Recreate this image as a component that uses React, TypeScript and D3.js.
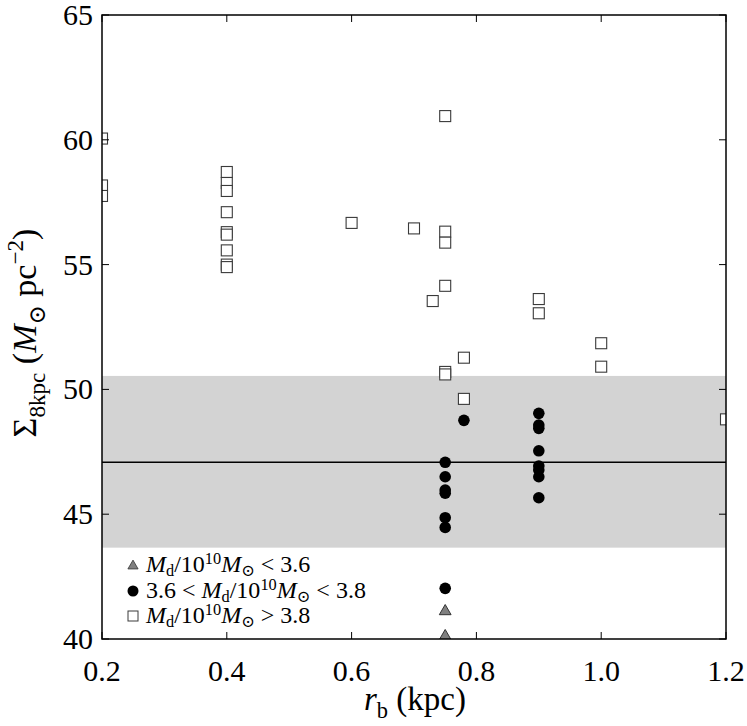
import { useEffect, useRef } from 'react'
import * as d3 from 'd3'

const W = 747, H = 726
const M = { top: 15, right: 21, bottom: 87, left: 102 }

// Md/10^10 Msun < 3.6
const triRb = [0.75, 0.75]
const triSigma = [41.15, 40.15]

// 3.6 < Md/10^10 Msun < 3.8
const dotRb = [0.75, 0.75, 0.75, 0.75, 0.75, 0.75, 0.75, 0.78, 0.9, 0.9, 0.9, 0.9, 0.9, 0.9, 0.9, 0.9]
const dotSigma = [47.08, 46.5, 45.97, 45.84, 44.86, 44.47, 42.03, 48.76, 49.04, 48.57, 48.44, 47.54, 46.93, 46.77, 46.5, 45.66]

// Md/10^10 Msun > 3.8
const sqRb = [
  0.2, 0.2, 0.2,
  0.4, 0.4, 0.4, 0.4, 0.4, 0.4, 0.4, 0.4, 0.4,
  0.6, 0.7, 0.73,
  0.75, 0.75, 0.75, 0.75, 0.75, 0.75,
  0.78, 0.78, 0.9, 0.9, 1.0, 1.0, 1.2,
]
const sqSigma = [
  60.05, 58.17, 57.75,
  58.71, 58.27, 57.95, 57.1, 56.3, 56.2, 55.57, 55.0, 54.9,
  56.67, 56.45, 53.54,
  60.95, 56.32, 55.88, 54.15, 50.7, 50.6,
  51.27, 49.62, 53.62, 53.05, 51.85, 50.91, 48.8,
]

const mwValue = 47.08
const mwLow = 43.66
const mwHigh = 50.54

const xTicks = [0.2, 0.4, 0.6, 0.8, 1.0, 1.2]
const yTicks = [40, 45, 50, 55, 60, 65]

const FONT = '"Liberation Serif", "DejaVu Serif", serif'

type Part = [string, string?]

// a tiny piece of "TeX" as tspans: '' roman, 'i' italic, 'sub', 'sup'
function rich(t: d3.Selection<SVGTextElement, unknown, null, undefined>, parts: Part[], size: number, sub = 0.25, sup = 0.38) {
  let shift = 0
  parts.forEach(([s, k]) => {
    const target = k === 'sub' ? size * sub : k === 'sup' ? -size * sup : 0
    t.append('tspan')
      .attr('dy', target - shift)
      .style('font-size', `${k === 'sub' || k === 'sup' ? size * 0.68 : size}px`)
      .style('font-style', k === 'i' ? 'italic' : 'normal')
      .text(s)
    shift = target
  })
}

function Chart() {
  const ref = useRef<SVGSVGElement>(null)

  useEffect(() => {
    const svg = d3.select(ref.current!)
    svg.selectAll('*').remove()
    const iw = W - M.left - M.right
    const ih = H - M.top - M.bottom

    const x = d3.scaleLinear().domain([0.2, 1.2]).range([0, iw])
    const y = d3.scaleLinear().domain([40, 65]).range([ih, 0])

    svg.append('defs').append('clipPath').attr('id', 'plot-clip')
      .append('rect').attr('width', iw).attr('height', ih)

    const g = svg.append('g').attr('transform', `translate(${M.left},${M.top})`)
    const p = g.append('g').attr('clip-path', 'url(#plot-clip)')

    // Milky Way band + value
    p.append('rect')
      .attr('x', 0).attr('width', iw)
      .attr('y', y(mwHigh)).attr('height', y(mwLow) - y(mwHigh))
      .attr('fill', '#d3d3d3')
    p.append('line')
      .attr('x1', 0).attr('x2', iw).attr('y1', y(mwValue)).attr('y2', y(mwValue))
      .attr('stroke', '#000').attr('stroke-width', 1.6)

    const s = 11
    p.selectAll('rect.sq').data(sqRb).join('rect').attr('class', 'sq')
      .attr('x', d => x(d) - s / 2)
      .attr('y', (_, i) => y(sqSigma[i]) - s / 2)
      .attr('width', s).attr('height', s)
      .attr('fill', '#fff').attr('stroke', '#3a3a3a').attr('stroke-width', 1.1)

    p.selectAll('circle').data(dotRb).join('circle')
      .attr('cx', d => x(d)).attr('cy', (_, i) => y(dotSigma[i])).attr('r', 5.8)
      .attr('fill', '#000')

    const tri = d3.symbol(d3.symbolTriangle, 60)
    p.selectAll('path.tri').data(triRb).join('path').attr('class', 'tri')
      .attr('transform', (d, i) => `translate(${x(d)},${y(triSigma[i]) + 1})`)
      .attr('d', tri())
      .attr('fill', '#808080').attr('stroke', '#333').attr('stroke-width', 1)

    // frame + inward ticks on all sides
    g.append('rect').attr('width', iw).attr('height', ih)
      .attr('fill', 'none').attr('stroke', '#000').attr('stroke-width', 1.5)
    const tl = 7
    xTicks.forEach(t => {
      g.append('line').attr('x1', x(t)).attr('x2', x(t)).attr('y1', ih).attr('y2', ih - tl).attr('stroke', '#000').attr('stroke-width', 1)
      g.append('line').attr('x1', x(t)).attr('x2', x(t)).attr('y1', 0).attr('y2', tl).attr('stroke', '#000').attr('stroke-width', 1)
      g.append('text').attr('x', x(t)).attr('y', ih + 42)
        .attr('text-anchor', 'middle').style('font-family', FONT).style('font-size', '30px')
        .text(d3.format('.1f')(t))
    })
    yTicks.forEach(t => {
      g.append('line').attr('x1', 0).attr('x2', tl).attr('y1', y(t)).attr('y2', y(t)).attr('stroke', '#000').attr('stroke-width', 1)
      g.append('line').attr('x1', iw).attr('x2', iw - tl).attr('y1', y(t)).attr('y2', y(t)).attr('stroke', '#000').attr('stroke-width', 1)
      g.append('text').attr('x', -9).attr('y', y(t) + 10)
        .attr('text-anchor', 'end').style('font-family', FONT).style('font-size', '30px')
        .text(t)
    })

    // axis labels
    const xl = svg.append('text').attr('x', 415).attr('y', 710)
      .attr('text-anchor', 'middle').style('font-family', FONT)
    rich(xl, [['r', 'i'], ['b', 'sub'], [' (kpc)']], 33)

    const yl = svg.append('text')
      .attr('transform', `translate(36,333) rotate(-90)`)
      .attr('text-anchor', 'middle').style('font-family', FONT)
    rich(yl, [['Σ'], ['8kpc', 'sub'], [' ('], ['M', 'i'], ['⊙', 'sub'], [' pc'], ['−2', 'sup'], [')']], 34)

    // legend
    const lg = svg.append('g')
    const rows: { kind: string, parts: Part[] }[] = [
      { kind: 'tri', parts: [['M', 'i'], ['d', 'sub'], ['/10'], ['10', 'sup'], ['M', 'i'], ['⊙', 'sub'], [' < 3.6']] },
      { kind: 'dot', parts: [['3.6 < '], ['M', 'i'], ['d', 'sub'], ['/10'], ['10', 'sup'], ['M', 'i'], ['⊙', 'sub'], [' < 3.8']] },
      { kind: 'sq', parts: [['M', 'i'], ['d', 'sub'], ['/10'], ['10', 'sup'], ['M', 'i'], ['⊙', 'sub'], [' > 3.8']] },
    ]
    const rowY = [565, 591, 616]
    rows.forEach((r, i) => {
      const cy = rowY[i]
      if (r.kind === 'tri') {
        lg.append('path').attr('transform', `translate(133,${cy + 1})`)
          .attr('d', d3.symbol(d3.symbolTriangle, 45)())
          .attr('fill', '#808080').attr('stroke', '#333').attr('stroke-width', 0.8)
      } else if (r.kind === 'dot') {
        lg.append('circle').attr('cx', 133).attr('cy', cy).attr('r', 5.5).attr('fill', '#000')
      } else {
        lg.append('rect').attr('x', 128).attr('y', cy - 5).attr('width', 10).attr('height', 10)
          .attr('fill', '#fff').attr('stroke', '#3a3a3a').attr('stroke-width', 1)
      }
      const t = lg.append('text').attr('x', 146).attr('y', cy + 7).style('font-family', FONT)
      rich(t, r.parts, 24, 0.18, 0.32)
    })
  }, [])

  return <svg ref={ref} width={W} height={H} viewBox={`0 0 ${W} ${H}`}
    style={{ position: 'absolute', left: 0, top: 0, background: '#fff' }} />
}

export default function App() {
  return <Chart />
}
